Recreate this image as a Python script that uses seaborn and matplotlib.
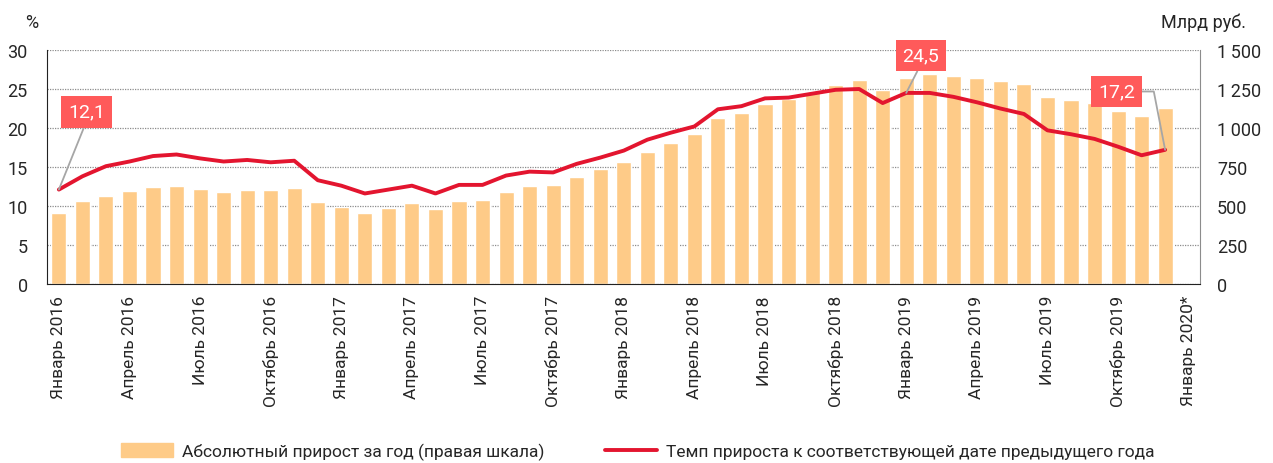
import numpy as np
import pandas as pd
import matplotlib.pyplot as plt
import matplotlib.ticker as mticker
from matplotlib.patches import Patch
from matplotlib.lines import Line2D
import seaborn as sns

months_ru = ['Январь', 'Февраль', 'Март', 'Апрель', 'Май', 'Июнь',
             'Июль', 'Август', 'Сентябрь', 'Октябрь', 'Ноябрь', 'Декабрь']
years = [2016, 2017, 2018, 2019]
labels = [f'{m} {y}' for y in years for m in months_ru] + ['Январь 2020*']

# абсолютный прирост за год, млрд руб. (правая шкала)
growth_abs = [457, 530, 566, 594, 622, 628, 611, 590, 603, 600, 618, 526,
              496, 457, 489, 519, 481, 534, 536, 592, 630, 633, 688, 739,
              780, 848, 904, 962, 1066, 1098, 1156, 1186, 1231, 1274, 1308, 1242,
              1321, 1344, 1336, 1323, 1301, 1282, 1199, 1180, 1160, 1109, 1075, 1128]
# темп прироста, %
growth_rate = [12.1, 13.8, 15.1, 15.7, 16.4, 16.6, 16.1, 15.7, 15.9, 15.6, 15.8, 13.3,
               12.6, 11.6, 12.1, 12.6, 11.6, 12.7, 12.7, 13.9, 14.4, 14.3, 15.4, 16.2,
               17.1, 18.5, 19.4, 20.2, 22.4, 22.8, 23.8, 23.9, 24.4, 24.9, 25.0, 23.2,
               24.5, 24.5, 24.0, 23.3, 22.5, 21.8, 19.7, 19.2, 18.6, 17.6, 16.5, 17.2]
callouts = [0, 36, 47]

bar_color = '#FECB88'
line_color = '#E3152F'
box_color = '#FF5A5A'

sns.set_style('white')
plt.rcParams['font.family'] = ['Roboto', 'DejaVu Sans']

df = pd.DataFrame({'month': labels[:len(growth_abs)], 'abs': growth_abs,
                   'rate': growth_rate, 'pos': np.arange(len(growth_abs))})

fig, ax = plt.subplots(figsize=(12.73, 4.64), dpi=100)
fig.subplots_adjust(left=0.037, right=0.943, top=0.89, bottom=0.386)

# столбцы - правая шкала
sns.barplot(data=df, x='month', y='abs', order=labels, color=bar_color,
            saturation=1, width=0.64, ax=ax)
ax.set_ylim(0, 1500)
ax.set_xlim(-0.5, len(labels) - 0.5)
ax.set_xticks(range(0, len(labels), 3))
ax.set_xticklabels(labels[::3], rotation=90)
ax.set_xticks(np.arange(-0.5, len(labels), 1), minor=True)
ax.tick_params(axis='x', which='major', length=0, pad=8, labelsize=12.5)
ax.tick_params(axis='x', which='minor', length=5, width=0.9, color='#444444', direction='out')
ax.set_xlabel('')
ax.set_ylabel('')

# линия - левая шкала
ax2 = ax.twinx()
sns.lineplot(data=df, x='pos', y='rate', color=line_color, lw=2.8, ax=ax2)
ax2.set_ylim(0, 30)
ax2.yaxis.tick_left()
ax2.set_yticks(range(0, 31, 5))
ax2.tick_params(axis='y', length=0, pad=14, labelsize=13)
ax2.set_xlabel('')
ax2.set_ylabel('')

# правая шкала для столбцов (после twinx)
ax.yaxis.tick_right()
ax.set_yticks(range(0, 1501, 250))
ax.yaxis.set_major_formatter(mticker.FuncFormatter(lambda v, p: f'{int(v):,}'.replace(',', '\u2009')))
ax.tick_params(axis='y', length=0, pad=12, labelsize=13)
ax.yaxis.grid(True, linestyle=(0, (1, 1)), color='#8c8c8c', lw=0.9)
ax.set_axisbelow(True)

ax.spines['top'].set_visible(False)
for s in ax2.spines.values():
    s.set_visible(False)
ax.spines['left'].set_color('#222222')
ax.spines['bottom'].set_color('#222222')
ax.spines['right'].set_color('#8c8c8c')

# выноски
offsets = [(20, 56), (10.5, 27), (-35, 42)]
relpos = [(0.5, 0), (0.5, 0), (1, 0.5)]
styles = ['arc3', 'arc3', 'angle,angleA=0,angleB=101,rad=0']
for i, off, rp, cs in zip(callouts, offsets, relpos, styles):
    ax2.annotate(f'{growth_rate[i]:.1f}'.replace('.', ','), xy=(i, growth_rate[i]),
                 xytext=off, textcoords='offset points', ha='center', va='center',
                 color='white', fontsize=14,
                 bbox=dict(boxstyle='square,pad=0.35', fc=box_color, ec='none'),
                 arrowprops=dict(arrowstyle='-', color='#a6a6a6', lw=1.3, relpos=rp,
                                 shrinkA=0, shrinkB=0, connectionstyle=cs))

fig.text(0.025, 0.95, '%', ha='center', va='center', fontsize=13)
fig.text(0.979, 0.95, 'Млрд руб.', ha='right', va='center', fontsize=13)

handles = [Patch(color=bar_color), Line2D([], [], color=line_color, lw=2.8)]
fig.legend(handles, ['Абсолютный прирост за год (правая шкала)',
                     'Темп прироста к соответствующей дате предыдущего года'],
           loc='center', bbox_to_anchor=(0.501, 0.025), ncol=2, frameon=False,
           fontsize=12.5, handlelength=3, handleheight=0.9, columnspacing=3.5,
           handletextpad=0.5)

plt.savefig('out.png', dpi=100)
